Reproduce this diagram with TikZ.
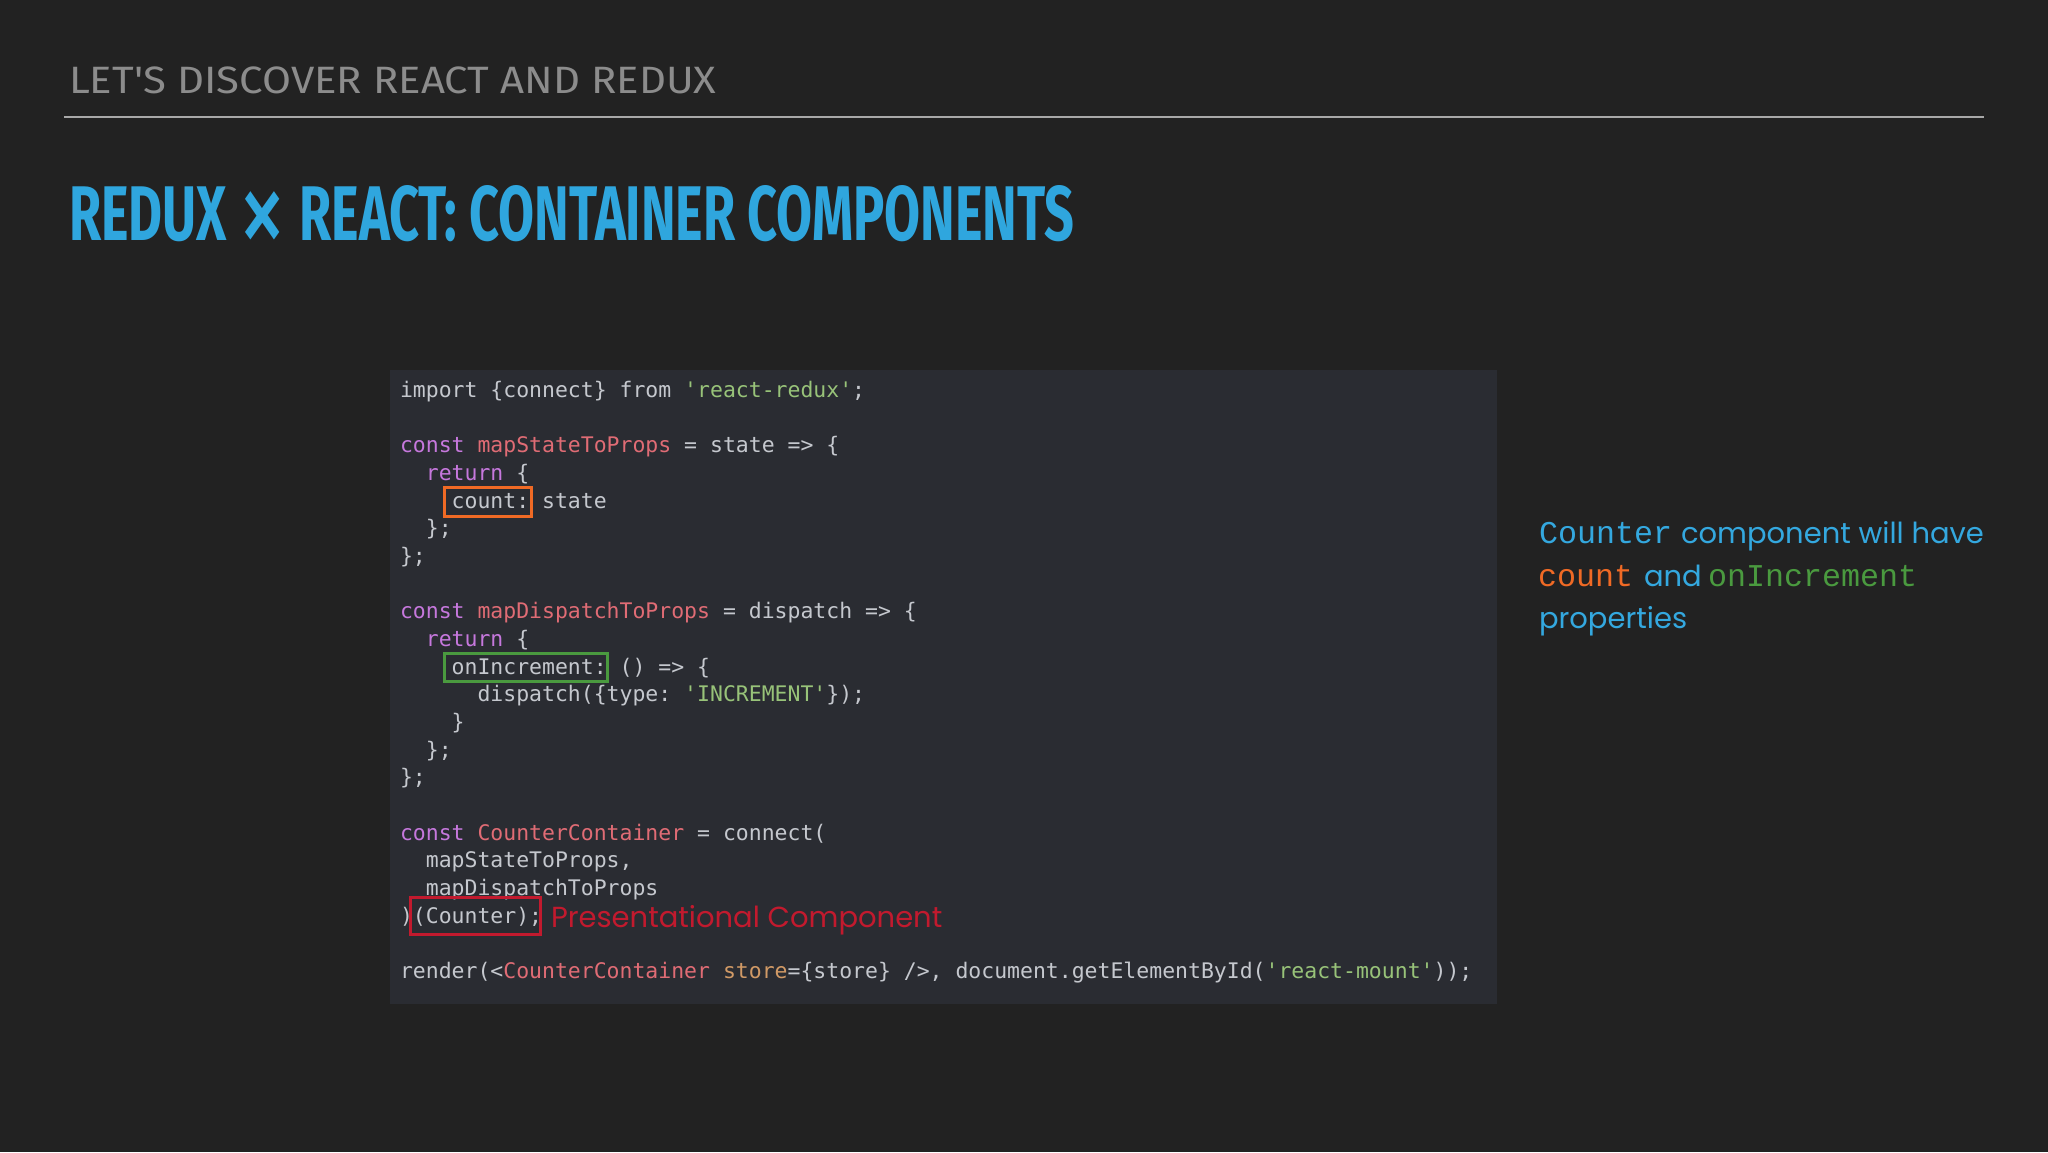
\documentclass[tikz,border=0pt]{standalone}
\usepackage{fontspec}
\setmonofont{DejaVu Sans Mono}
\newfontfamily\dinfont{Fira Sans}
\newfontfamily\avfont{Poppins}
\newfontfamily\courfont{Liberation Mono}
\definecolor{bg}{HTML}{222222}
\definecolor{panel}{HTML}{2A2C32}
\definecolor{hdrgray}{HTML}{8C8C8C}
\definecolor{rulegray}{HTML}{A8A8A8}
\definecolor{titleblue}{HTML}{2FA6DE}
\definecolor{codegray}{HTML}{C5C8CE}
\definecolor{ckw}{HTML}{C678DD}
\definecolor{cname}{HTML}{E06C75}
\definecolor{cstr}{HTML}{98C379}
\definecolor{cattr}{HTML}{D19A66}
\definecolor{boxorange}{HTML}{F06A25}
\definecolor{boxgreen}{HTML}{4A9A3F}
\definecolor{boxred}{HTML}{C21A2E}
\definecolor{noteblue}{HTML}{34A8DF}
\newcommand\codefnt{\ttfamily\fontsize{21.46pt}{25pt}\selectfont\frenchspacing}
\newcommand\rtsans{\avfont\fontsize{29pt}{34pt}\selectfont}
\newcommand\rtmono{\courfont\fontsize{31.7pt}{34pt}\selectfont}
\begin{document}
\begin{tikzpicture}[x=1pt,y=-1pt,
  every node/.style={inner sep=0pt,outer sep=0pt},
  code/.style={anchor=base west,font=\codefnt,text=codegray},
  hlbox/.style={line width=3pt},
  note/.style={anchor=base west,text=noteblue,font=\rtsans},
  notemono/.style={anchor=base west,font=\rtmono}]
\fill[bg] (0,0) rectangle (2048,1152);
\useasboundingbox (0,0) rectangle (2048,1152);
% header
\node[anchor=base west,text=hdrgray] (hdr) at (69,93.5)
  {\resizebox{647pt}{26.7pt}{\dinfont LET'S DISCOVER REACT AND REDUX}};
\coordinate (ruleL) at (64,117);
\coordinate (ruleR) at (1984,117);
\draw[rulegray,line width=2.5pt] (ruleL) -- (ruleR);
\node[anchor=base west,text=titleblue] (title) at (69,240)
  {\resizebox{1005pt}{55pt}{\dinfont\bfseries REDUX {\mdseries\raisebox{-2.2pt}{\smash{\scalebox{1.85}[1.75]{×}}}} REACT: CONTAINER COMPONENTS}};
% code panel
\fill[panel] (390,370) rectangle (1497,1004);
\node[code] (l1) at (400,397.5) {import \{connect\} from \textcolor{cstr}{'react-redux'};};
\node[code] (l3) at (400,452.84) {\textcolor{ckw}{const} \textcolor{cname}{mapStateToProps} = state => \{};
\node[code] (l4) at (425.84,480.51) {\textcolor{ckw}{return} \{};
\node[code] (l5) at (451.68,508.18) {count: state};
\node[code] (l6) at (425.84,535.85) {\};};
\node[code] (l7) at (400,563.52) {\};};
\node[code] (l9) at (400,618.86) {\textcolor{ckw}{const} \textcolor{cname}{mapDispatchToProps} = dispatch => \{};
\node[code] (l10) at (425.84,646.53) {\textcolor{ckw}{return} \{};
\node[code] (l11) at (451.68,674.2) {onIncrement: () => \{};
\node[code] (l12) at (477.52,701.87) {dispatch(\{type: \textcolor{cstr}{'INCREMENT'}\});};
\node[code] (l13) at (451.68,729.54) {\}};
\node[code] (l14) at (425.84,757.21) {\};};
\node[code] (l15) at (400,784.88) {\};};
\node[code] (l17) at (400,840.22) {\textcolor{ckw}{const} \textcolor{cname}{CounterContainer} = connect(};
\node[code] (l18) at (425.84,867.89) {mapStateToProps,};
\node[code] (l19) at (425.84,895.56) {mapDispatchToProps};
\node[code] (l20) at (400,923.23) {)(Counter);};
\node[code] (l22) at (400,978.57) {render(<\textcolor{cname}{CounterContainer} \textcolor{cattr}{store}=\{store\} />, document.getElementById(\textcolor{cstr}{'react-mount'}));};
% highlight boxes
\draw[boxorange,hlbox] (444,487.5) rectangle (531.5,516);
\draw[boxgreen,hlbox] (444,653) rectangle (607.5,681);
\draw[boxred,hlbox] (410.5,897.5) rectangle (540.5,934.5);
\node[anchor=base west,text=boxred,font=\avfont\fontsize{29pt}{32pt}\selectfont] (pres) at (551,927) {Presentational Component};
% note
\node[notemono,text=noteblue] (n1a) at (1539,543.3) {Counter};
\node[note] (n1b) at (1681,543.3) {component will have};
\node[notemono,text=boxorange] (n2a) at (1538,586.7) {count};
\node[note] (n2b) at (1644,586.7) {and};
\node[notemono,text=boxgreen] (n2c) at (1708,586.7) {onIncrement};
\node[note] (n3) at (1539,628.5) {properties};
\end{tikzpicture}
\end{document}
